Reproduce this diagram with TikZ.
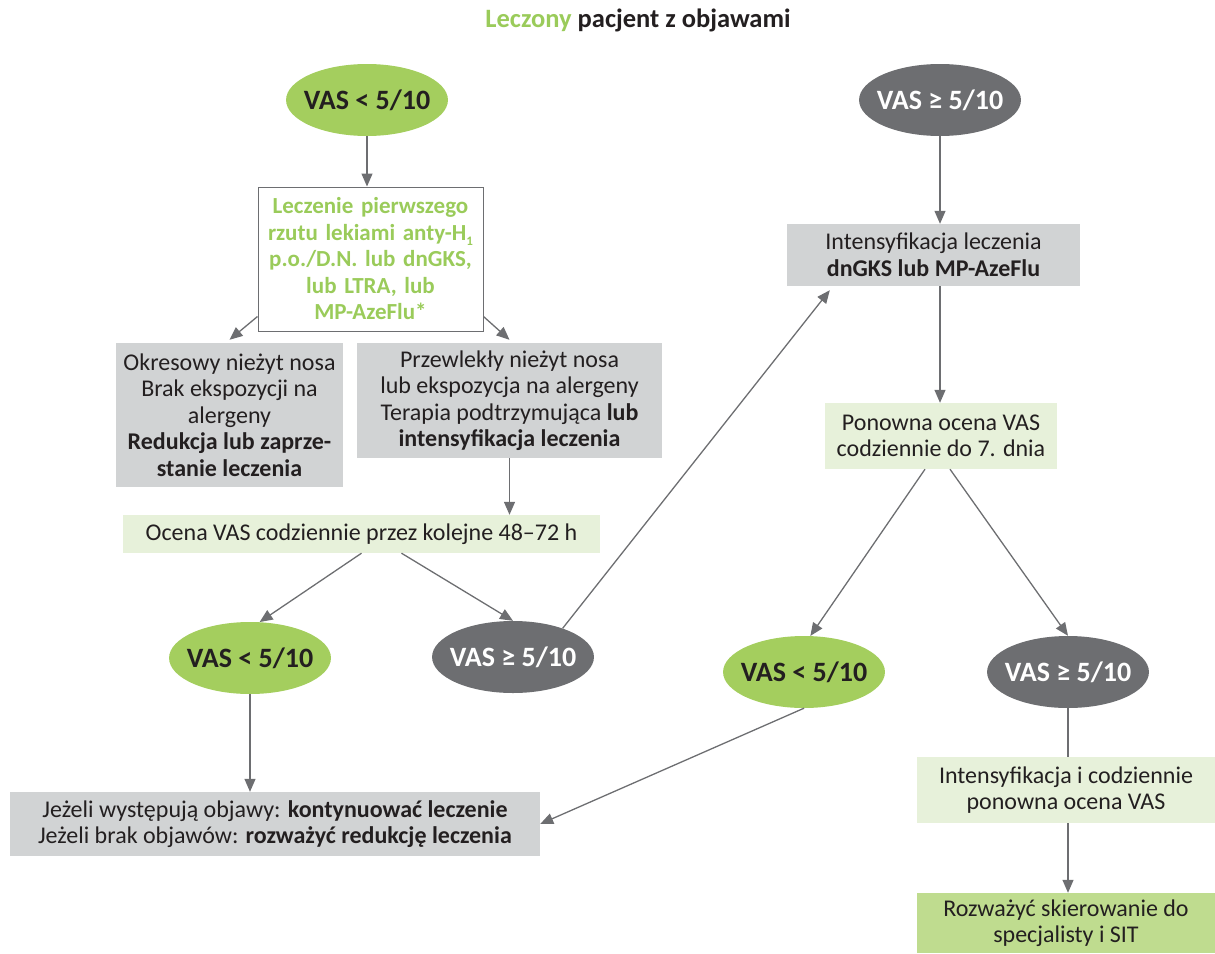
\documentclass[tikz,border=0pt]{standalone}
\usepackage{fontspec}
\setmainfont{Carlito}
\usetikzlibrary{shapes.geometric,arrows.meta}
\definecolor{zielony}{HTML}{A4CE5E}
\definecolor{zielonytxt}{HTML}{9ACB5A}
\definecolor{szary}{HTML}{6D6E71}
\definecolor{jasnyszary}{HTML}{D1D3D4}
\definecolor{jasnyziel}{HTML}{E7F1DA}
\definecolor{sredniziel}{HTML}{BFDC8F}
\definecolor{tekst}{HTML}{231F20}
\begin{document}
\begin{tikzpicture}[x=1pt,y=-1pt,
  txt/.style={font=\fontsize{24}{26.5}\selectfont,text=tekst,align=center,inner sep=0pt},
  vasok/.style={ellipse,fill=zielony,minimum width=160pt,minimum height=72pt,inner xsep=-6pt,inner ysep=0pt,
    font=\fontsize{28}{28}\selectfont\bfseries,text=tekst},
  vaszle/.style={vasok,fill=szary,text=white},
  szarybox/.style={txt,rectangle,fill=jasnyszary},
  zielbox/.style={txt,rectangle,fill=jasnyziel},
  strzalka/.style={draw=szary,line width=1.3pt,-{Triangle[length=13pt,width=11pt]}}]
\useasboundingbox (0,0) rectangle (1215,953);
%tytul
  \node[font=\fontsize{26.5}{26.5}\selectfont\bfseries,text=tekst] (tytul) at (638,20) {{\color{zielonytxt}Leczony} pacjent z objawami};

%lewa kolumna
  \node[vasok] (v1ok) at (367,100) {VAS < 5/10};
  \node[txt,draw=szary,line width=1pt,minimum width=225pt,minimum height=144pt,text width=220pt,
    text=zielonytxt,font=\fontsize{23}{26.5}\selectfont\bfseries] (lecz) at (370.5,259)
    {Leczenie pierwszego\\rzutu lekiami anty-H\raisebox{-0.45ex}{\fontsize{13}{13}\selectfont 1}\\p.o./D.N. lub dnGKS,\\lub LTRA, lub\\MP-AzeFlu*};
  \node[szarybox,minimum width=227pt,minimum height=144pt] (okres) at (229.5,415)
    {Okresowy nieżyt nosa\\Brak ekspozycji na\\alergeny\\\textbf{Redukcja lub zaprze-}\\\textbf{stanie leczenia}};
  \node[szarybox,minimum width=305pt,minimum height=115pt] (przew) at (509.5,400.5)
    {Przewlekły nieżyt nosa\\lub ekspozycja na alergeny\\Terapia podtrzymująca \textbf{lub}\\\textbf{intensyfikacja leczenia}};
  \node[zielbox,minimum width=477pt,minimum height=38pt] (ocena) at (361.5,534)
    {Ocena VAS codziennie przez kolejne 48–72 h};
  \node[vasok] (v2ok) at (250,658) {VAS < 5/10};
  \node[vaszle] (v2zle) at (513,657) {VAS ≥ 5/10};
  \node[szarybox,minimum width=530pt,minimum height=64pt] (dol) at (275,824)
    {Jeżeli występują objawy: \textbf{kontynuować leczenie}\\Jeżeli brak objawów: \textbf{rozważyć redukcję leczenia}};

%prawa kolumna
  \node[vaszle] (v1zle) at (940,100) {VAS ≥ 5/10};
  \node[szarybox,minimum width=293pt,minimum height=62pt] (intens) at (933.5,255)
    {Intensyfikacja leczenia\\\textbf{dnGKS lub MP-AzeFlu}};
  \node[zielbox,minimum width=232pt,minimum height=66pt] (ponowna) at (941,436)
    {Ponowna ocena VAS\\codziennie do 7. dnia};
  \node[vasok] (v3ok) at (804,672) {VAS < 5/10};
  \node[vaszle] (v3zle) at (1068,672) {VAS ≥ 5/10};
  \node[zielbox,minimum width=298pt,minimum height=66pt] (intens2) at (1066,790)
    {Intensyfikacja i codziennie\\ponowna ocena VAS};
  \node[szarybox,fill=sredniziel,minimum width=298pt,minimum height=60pt] (rozwaz) at (1066,923)
    {Rozważyć skierowanie do\\specjalisty i SIT};

%strzalki
  \draw[strzalka] (v1ok.south) -- (v1ok.south |- lecz.north);
  \draw[strzalka] ([yshift=15pt]lecz.south west) -- ([yshift=3pt]okres.north);
  \draw[strzalka] ([yshift=15pt]lecz.south east) -- ([yshift=3pt]przew.north);
  \draw[strzalka] (przew.south) -- (przew.south |- ocena.north);
  \draw[strzalka] (ocena.south) -- (v2ok.75);
  \draw[strzalka] ([xshift=40pt]ocena.south) -- (v2zle.north);
  \draw[strzalka] (v2ok.south) -- (v2ok.south |- dol.north);
  \draw[strzalka] (v2zle.30) -- ([xshift=43pt,yshift=-4pt]intens.south west);
  \draw[strzalka] (v1zle.south) -- (v1zle.south |- intens.north);
  \draw[strzalka] (v1zle.south |- intens.south) -- (v1zle.south |- ponowna.north);
  \draw[strzalka] ([xshift=-16pt]ponowna.south) -- (v3ok.80);
  \draw[strzalka] ([xshift=9pt]ponowna.south) -- (v3zle.north);
  \draw[strzalka] (v3ok.south) -- (dol.east);
  \draw[draw=szary,line width=1.3pt] (v3zle.south) -- (v3zle.south |- intens2.north);
  \draw[strzalka] (v3zle.south |- intens2.south) -- (v3zle.south |- rozwaz.north);
\end{tikzpicture}
\end{document}
